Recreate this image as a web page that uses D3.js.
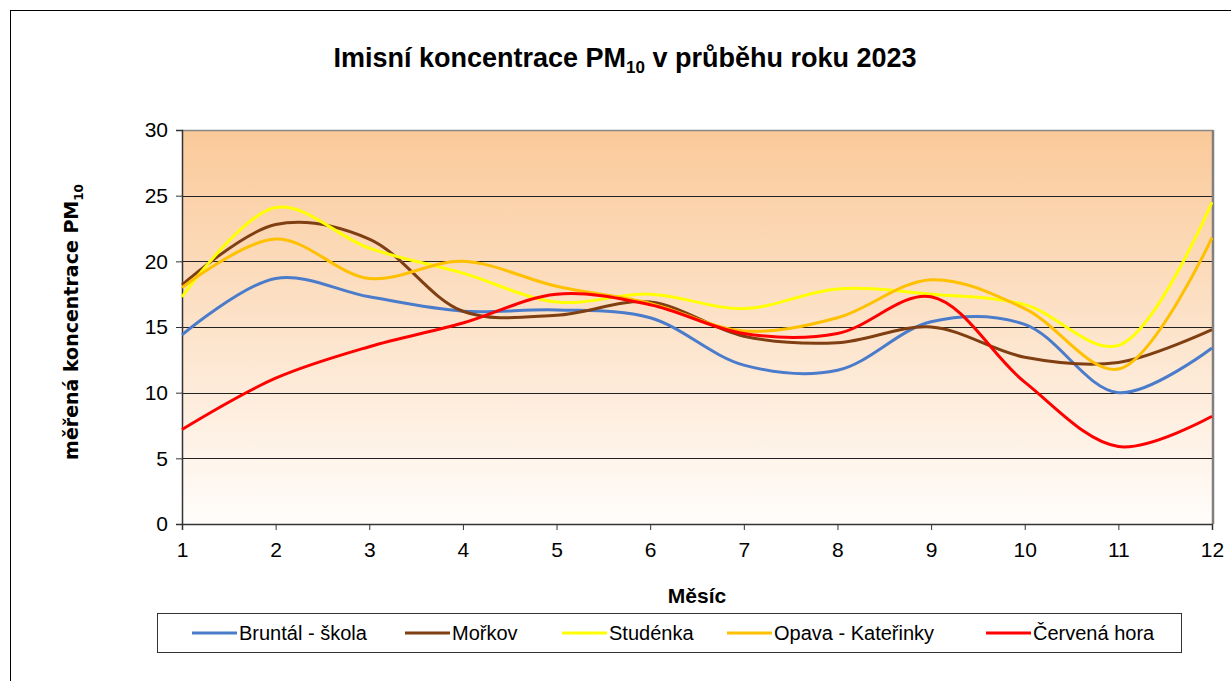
<!DOCTYPE html>
<html><head><meta charset="utf-8">
<script src="https://cdn.jsdelivr.net/npm/d3@7"></script>
<style>body{margin:0;background:#fff}svg{display:block}text{font-family:"Liberation Sans",Arial,sans-serif}</style>
</head><body><svg id="c" width="1231" height="681"></svg>
<script>
const months = [1,2,3,4,5,6,7,8,9,10,11,12];
const seriesNames = ["Bruntál - škola","Mořkov","Studénka","Opava - Kateřinky","Červená hora"];
const seriesColors = ["#4A7CCB","#7F3F12","#FFFF00","#FFC000","#FF0000"];
const bruntal = [14.4,18.7,17.3,16.2,16.3,15.7,12.1,11.7,15.4,15.2,10.0,13.4];
const morkov  = [18.2,22.8,21.7,16.2,15.9,16.9,14.3,13.8,15.0,12.7,12.3,14.8];
const studenka= [17.3,24.1,21.0,19.1,16.9,17.5,16.4,17.9,17.5,16.7,13.6,24.5];
const opava   = [18.0,21.7,18.7,20.0,18.1,16.8,14.7,15.7,18.6,16.4,11.8,21.8];
const cervena = [7.2,11.1,13.5,15.3,17.5,16.7,14.5,14.5,17.3,10.8,5.9,8.2];
const seriesValues = [bruntal,morkov,studenka,opava,cervena];
const yTicks = [0,5,10,15,20,25,30];

const svg = d3.select("#c");
const L=182,R=1212,T=130,B=524;
const x = d3.scaleLinear().domain([1,12]).range([L,R]);
const y = d3.scaleLinear().domain([0,30]).range([B,T]);

// outer border
svg.append("rect").attr("x",10.5).attr("y",10.5).attr("width",1240).attr("height",700)
  .attr("fill","#fff").attr("stroke","#000").attr("stroke-width",1);

const defs = svg.append("defs");
const g = defs.append("linearGradient").attr("id","bg").attr("x1",0).attr("y1",0).attr("x2",0).attr("y2",1);
g.append("stop").attr("offset","0%").attr("stop-color","#FAC999");
g.append("stop").attr("offset","100%").attr("stop-color","#FFFDFB");
svg.append("rect").attr("x",L).attr("y",T).attr("width",R-L).attr("height",B-T).attr("fill","url(#bg)");

// gridlines
svg.append("g").selectAll("line").data(yTicks.filter(d=>d>0&&d<30)).join("line")
  .attr("x1",L).attr("x2",R).attr("y1",d=>Math.round(y(d))+0.5).attr("y2",d=>Math.round(y(d))+0.5)
  .attr("stroke","#222").attr("stroke-width",1);

// plot border (gray)
svg.append("line").attr("x1",L).attr("x2",R+1).attr("y1",T+0.5).attr("y2",T+0.5).attr("stroke","#888").attr("stroke-width",1.5);
svg.append("line").attr("x1",R+1).attr("x2",R+1).attr("y1",T).attr("y2",B).attr("stroke","#808080").attr("stroke-width",2.5);

// axes
const ya = svg.append("g").attr("transform",`translate(${L},0)`)
  .call(d3.axisLeft(y).tickValues(yTicks).tickSize(6).tickPadding(8).tickFormat(d3.format("d")));
const xa = svg.append("g").attr("transform",`translate(0,${B})`)
  .call(d3.axisBottom(x).tickValues(months).tickSize(6).tickPadding(12).tickFormat(d3.format("d")));
[ya,xa].forEach(a=>{
  a.select(".domain").attr("stroke","#333").attr("stroke-width",1.5);
  a.selectAll(".tick line").attr("stroke","#333");
  a.selectAll("text").attr("font-family","Liberation Sans, Arial").attr("font-size",21).attr("fill","#000");
});

// lines
const line = d3.line().x((d,i)=>x(months[i])).y(d=>y(d)).curve(d3.curveCatmullRom.alpha(0.5));
const order=[0,1,2,3,4];
svg.append("g").selectAll("path").data(order).join("path")
  .attr("d",i=>line(seriesValues[i])).attr("fill","none")
  .attr("stroke",i=>seriesColors[i]).attr("stroke-width",3).attr("stroke-linejoin","round");

// title
const title = svg.append("text").attr("x",625).attr("y",67).attr("text-anchor","middle")
  .attr("font-size",27).attr("font-weight","bold").attr("fill","#000");
title.append("tspan").text("Imisní koncentrace PM");
title.append("tspan").attr("font-size",17).attr("dy",6).text("10");
title.append("tspan").attr("dy",-6).text(" v průběhu roku 2023");

// y title
const yt = svg.append("text").attr("transform","translate(78,322) rotate(-90)").attr("text-anchor","middle")
  .attr("font-size",19).attr("font-weight","bold").attr("fill","#000").style("font-family","'DejaVu Sans',Verdana,sans-serif");
yt.append("tspan").text("měřená koncentrace PM");
yt.append("tspan").attr("font-size",12).attr("dy",5).text("10");

// x title
svg.append("text").attr("x",697).attr("y",603).attr("text-anchor","middle")
  .attr("font-size",21).attr("font-weight","bold").text("Měsíc");

// legend
svg.append("rect").attr("x",157.5).attr("y",613.5).attr("width",1024).attr("height",39)
  .attr("fill","#fff").attr("stroke","#333").attr("stroke-width",1);
const legX=[192,405,562,727,986];
const lg = svg.append("g").selectAll("g").data(order).join("g").attr("transform",i=>`translate(${legX[i]},633)`);
lg.append("line").attr("x1",0).attr("x2",45).attr("stroke",i=>seriesColors[i]).attr("stroke-width",3);
lg.append("text").attr("x",47).attr("y",7).attr("font-size",20).attr("fill","#000").text(i=>seriesNames[i]);
</script></body></html>
